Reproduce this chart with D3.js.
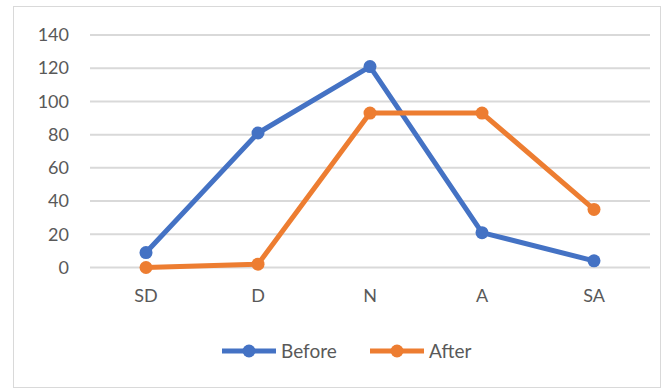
<!DOCTYPE html>
<html><head><meta charset="utf-8">
<script src="https://cdn.jsdelivr.net/npm/d3@7"></script>
<style>body{margin:0;background:#fff}svg{display:block}</style>
</head><body>
<svg id="c" width="666" height="390"></svg>
<script>
const categories = ["SD","D","N","A","SA"];
const before = [9, 81, 121, 21, 4];
const after = [0, 2, 93, 93, 35];
const yTicks = [0,20,40,60,80,100,120,140];
const seriesNames = ["Before","After"];
const colors = ["#4472C4","#ED7D31"];

const svg = d3.select("#c");
const font = "Lato, 'Open Sans', sans-serif";
svg.append("rect").attr("x",13.5).attr("y",6.5).attr("width",647).attr("height",381)
  .attr("fill","#fff").attr("stroke","#d9d9d9");

const x = d3.scaleBand().domain(categories).range([90,650]);
const y = d3.scaleLinear().domain([0,140]).range([267.5,35]);

const grid = svg.append("g");
grid.selectAll("line").data(yTicks).join("line")
  .attr("x1",90).attr("x2",650).attr("y1",d=>y(d)).attr("y2",d=>y(d))
  .attr("stroke","#d9d9d9").attr("stroke-width",2);

const yAxis = svg.append("g").attr("transform","translate(69,0)")
  .call(d3.axisLeft(y).tickValues(yTicks).tickSize(0).tickPadding(0));
yAxis.select(".domain").remove();
yAxis.selectAll("text").attr("font-family",font).attr("font-size",18).attr("fill","#595959");

const xAxis = svg.append("g").attr("transform","translate(0,289)")
  .call(d3.axisBottom(x).tickSize(0).tickPadding(0));
xAxis.select(".domain").remove();
xAxis.selectAll("text").attr("font-family",font).attr("font-size",18).attr("fill","#595959");

const line = d3.line().x((d,i)=>x(categories[i])+x.bandwidth()/2).y(d=>y(d));
[before, after].forEach((vals,k)=>{
  const g = svg.append("g");
  g.append("path").datum(vals).attr("d",line).attr("fill","none")
    .attr("stroke",colors[k]).attr("stroke-width",5).attr("stroke-linejoin","round");
  g.selectAll("circle").data(vals).join("circle")
    .attr("cx",(d,i)=>x(categories[i])+x.bandwidth()/2).attr("cy",d=>y(d)).attr("r",6.5)
    .attr("fill",colors[k]);
});

const legX = [222, 370];
seriesNames.forEach((n,k)=>{
  const g = svg.append("g").attr("transform",`translate(${legX[k]},351)`);
  g.append("line").attr("x1",0).attr("x2",54).attr("stroke",colors[k]).attr("stroke-width",5);
  g.append("circle").attr("cx",27).attr("r",6.5).attr("fill",colors[k]);
  g.append("text").attr("x",59).attr("y",7).attr("font-family",font).attr("font-size",19)
    .attr("fill","#595959").text(n);
});
</script>
</body></html>
